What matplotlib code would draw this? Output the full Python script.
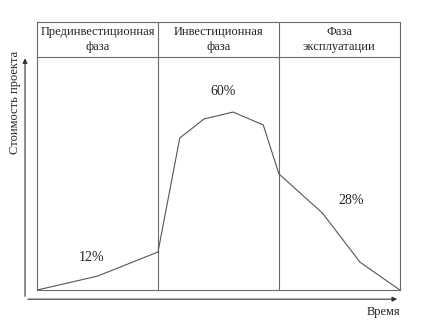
import matplotlib.pyplot as plt

# Phase headers and cost curve (time in phase units, cost in % of box height)
phases = ['Прединвестиционная\nфаза', 'Инвестиционная\nфаза', 'Фаза\nэксплуатации']
phase_edges = [0, 1, 2, 3]
time = [0, 0.5, 1.0, 1.18, 1.38, 1.62, 1.87, 2.0, 2.36, 2.67, 3.0]
cost = [0, 5.2, 14.2, 56.7, 63.8, 66.4, 61.6, 43.3, 28.7, 10.4, 0]
shares = ['12%', '60%', '28%']
share_x = [0.45, 1.54, 2.595]
share_y = [12.0, 74, 33.5]

header_y = 87
line_col = '#6a6a6a'
text_col = '#222222'

plt.rcParams['font.family'] = ['Liberation Serif', 'DejaVu Serif']

fig = plt.figure(figsize=(4.22, 3.23), dpi=100)
ax = fig.add_axes([0.0877, 0.102, 0.860, 0.830])
ax.set_xlim(0, 3)
ax.set_ylim(0, 100)
ax.set_xticks([])
ax.set_yticks([])
for s in ax.spines.values():
    s.set_color(line_col)
    s.set_linewidth(0.8)

# header row and phase dividers
ax.axhline(header_y, color=line_col, lw=0.8)
for e in phase_edges[1:-1]:
    ax.axvline(e, color=line_col, lw=0.8)
for i, name in enumerate(phases):
    ax.text((phase_edges[i] + phase_edges[i + 1]) / 2, (header_y + 100) / 2, name,
            ha='center', va='center', fontsize=9, color=text_col, linespacing=1.25)

# cost curve
ax.plot(time, cost, color='#555555', lw=0.8)
for x, y, s in zip(share_x, share_y, shares):
    ax.text(x, y, s, ha='center', va='center', fontsize=10, color=text_col)

# outer axes with arrows
arrow = dict(arrowstyle='-|>', color='#333333', lw=0.8, mutation_scale=7)
ax.annotate('', xy=(-0.033, 0.875), xytext=(-0.033, -0.034),
            xycoords='axes fraction', arrowprops=arrow, annotation_clip=False)
ax.annotate('', xy=(1.0, -0.034), xytext=(-0.033, -0.034),
            xycoords='axes fraction', arrowprops=arrow, annotation_clip=False)
ax.text(-0.06, 0.70, 'Стоимость проекта', transform=ax.transAxes, rotation=90,
        ha='center', va='center', fontsize=9, color=text_col)
ax.text(1.0, -0.08, 'Время', transform=ax.transAxes, ha='right', va='center',
        fontsize=9, color=text_col)

fig.savefig('out.png', dpi=100)
